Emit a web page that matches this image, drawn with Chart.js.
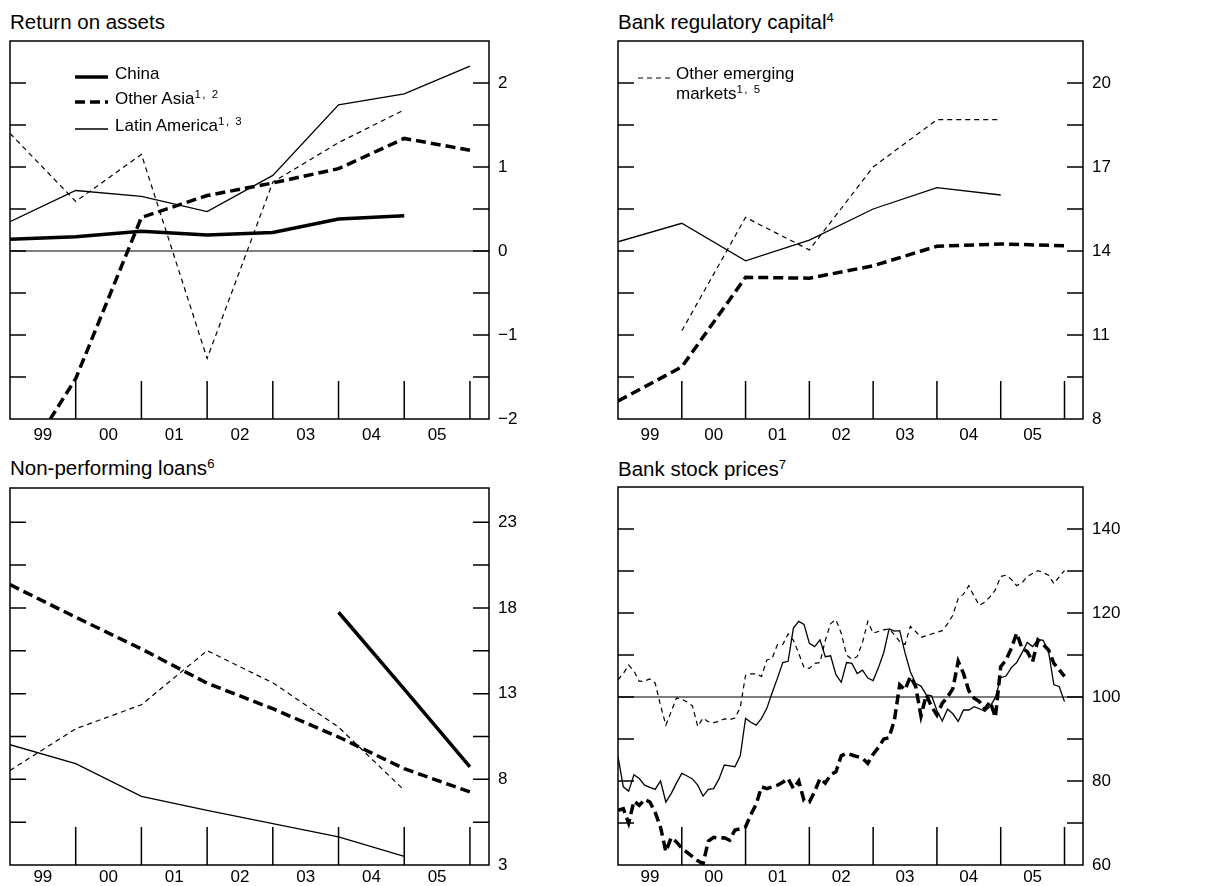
<!DOCTYPE html>
<html>
<head>
<meta charset="utf-8">
<script src="https://cdn.jsdelivr.net/npm/chart.js@4.4.1/dist/chart.umd.min.js"></script>
<style>
  body { margin: 0; background: #fff; width: 1219px; height: 886px; position: relative; overflow: hidden;
         font-family: "Liberation Sans", Arial, Helvetica, sans-serif; color: #000; }
  canvas { position: absolute; }
  .title { position: absolute; font-size: 20.5px; line-height: 20px; white-space: nowrap; }
  .lg { position: absolute; font-size: 17px; line-height: 20px; white-space: nowrap; }
  .title sup { font-size: 13px; vertical-align: 7px; line-height: 0; }
  .lg sup { font-size: 11.5px; letter-spacing: 1.5px; vertical-align: 6px; line-height: 0; }
</style>
</head>
<body>
<div class="title" style="left:10px;top:12px">Return on assets</div>
<div class="title" style="left:618px;top:12px">Bank regulatory capital<sup>4</sup></div>
<div class="title" style="left:10px;top:458px">Non-performing loans<sup>6</sup></div>
<div class="title" style="left:618px;top:459px">Bank stock prices<sup>7</sup></div>

<canvas id="roa" width="600" height="445" style="left:0;top:0"></canvas>
<canvas id="cap" width="619" height="445" style="left:600px;top:0"></canvas>
<canvas id="npl" width="600" height="441" style="left:0;top:445px"></canvas>
<canvas id="stk" width="619" height="441" style="left:600px;top:445px"></canvas>

<div class="lg" style="left:115px;top:64px">China</div>
<div class="lg" style="left:115px;top:89px">Other Asia<sup>1, 2</sup></div>
<div class="lg" style="left:115px;top:116px">Latin America<sup>1, 3</sup></div>
<div class="lg" style="left:676px;top:64px">Other emerging<br>markets<sup>1, 5</sup></div>

<script>
// x positions: annual values sit on the year ends (end-1998 ... end-2005)
const years = [1999, 2000, 2001, 2002, 2003, 2004, 2005, 2006];
const yearLabels = ['99', '00', '01', '02', '03', '04', '05'];

// Return on assets
const roaChina = [0.14, 0.17, 0.235, 0.19, 0.22, 0.38, 0.42, null];
const roaOtherAsia = [-2.76, -1.52, 0.40, 0.66, 0.81, 0.98, 1.34, 1.20];
const roaLatam = [0.35, 0.72, 0.65, 0.47, 0.90, 1.74, 1.87, 2.20];
const roaOtherEm = [1.40, 0.59, 1.15, -1.28, 0.82, 1.29, 1.68, null];
const roaTicks = [-2, -1, 0, 1, 2];

// Bank regulatory capital
const capOtherAsia = [8.64, 9.86, 13.06, 13.03, 13.47, 14.17, 14.25, 14.19];
const capLatam = [14.33, 14.99, 13.65, 14.39, 15.50, 16.26, 16.0, null];
const capOtherEm = [null, 11.15, 15.2, 14.04, 17.0, 18.69, 18.69, null];
const capTicks = [8, 11, 14, 17, 20];

// Non-performing loans
const nplChina = [null, null, null, null, null, 17.75, 13.26, 8.72];
const nplOtherAsia = [19.36, 17.46, 15.61, 13.61, 12.12, 10.47, 8.62, 7.26];
const nplOtherEm = [8.52, 10.95, 12.35, 15.51, 13.63, 11.05, 7.36, null];
const nplLatam = [10.02, 8.91, 7.0, 6.19, 5.42, 4.64, 3.51, null];
const nplTicks = [3, 8, 13, 18, 23];

// Bank stock prices, monthly Jan-99 ... Jan-06
const months = Array.from({ length: 85 }, (_, k) => 1999 + k / 12);
const stkLatam = [
  85.8, 78.6, 77.6, 81.5, 80.6, 79.0, 78.5, 78.0, 80.0, 75.0, 77.0, 79.5,
  81.8, 81.2, 80.5, 79.0, 76.4, 78.0, 78.2, 80.5, 83.8, 83.6, 83.4, 86.0,
  94.9, 94.0, 93.3, 94.9, 97.3, 101.0, 104.5, 108.2, 108.5, 116.4, 118.0, 117.3,
  112.8, 112.0, 113.6, 109.6, 109.8, 105.3, 103.5, 108.2, 108.0, 105.6, 106.4, 104.5,
  103.9, 107.0, 110.6, 116.2, 115.7, 115.8, 110.5, 106.0, 103.2, 102.6, 100.5, 100.3,
  96.8, 94.3, 97.1, 96.0, 94.2, 96.9, 96.9, 97.7, 97.2, 96.6, 97.7, 99.9,
  104.6, 105.0, 107.0, 108.2, 110.5, 113.0, 112.0, 113.7, 113.5, 110.8, 102.9, 102.5,
  98.9
];
const stkOtherAsia = [
  73.0, 73.4, 70.0, 75.2, 74.2, 75.6, 75.0, 72.5, 69.0, 63.2, 66.5, 65.5,
  64.0, 63.0, 62.0, 61.0, 60.3, 65.7, 66.6, 66.4, 66.5, 65.9, 68.3, 68.6,
  69.1, 72.0, 74.5, 78.6, 78.2, 78.6, 79.0, 79.7, 80.6, 78.2, 80.0, 75.3,
  75.0, 77.5, 80.6, 79.5, 81.5, 82.2, 86.0, 86.6, 86.2, 85.8, 85.4, 84.2,
  86.4, 88.0, 90.0, 90.3, 94.5, 102.9, 101.7, 104.9, 102.5, 95.5, 100.5, 97.7,
  95.7, 98.5, 100.0, 102.0, 108.5, 105.6, 101.5, 99.7, 98.9, 97.1, 98.9, 95.2,
  107.2, 108.8, 111.6, 115.2, 111.6, 110.8, 108.4, 113.6, 112.5, 111.2, 108.0, 106.5,
  104.9
];
const stkOtherEm = [
  104.1, 105.6, 107.6, 106.2, 103.7, 103.8, 104.3, 103.3, 98.0, 93.3, 96.5, 99.8,
  99.5, 98.8, 97.9, 93.0, 95.0, 94.1, 93.9, 94.2, 94.8, 94.6, 95.0, 97.5,
  105.2, 105.5, 105.5, 104.9, 108.8, 109.2, 112.5, 112.5, 115.0, 113.5, 110.4, 107.0,
  106.8, 108.0, 108.2, 113.5, 117.5, 118.4, 115.2, 110.0, 109.0, 109.6, 113.0, 118.0,
  115.2, 115.6, 116.0, 116.2, 114.8, 113.2, 112.5, 116.8, 115.6, 114.2, 114.6, 115.0,
  115.4, 115.8, 117.4, 119.5, 123.5, 124.5, 126.5, 124.0, 121.8, 122.6, 123.9, 125.5,
  128.7, 129.0, 128.0, 126.5, 127.2, 128.7, 129.4, 130.1, 129.6, 129.0, 127.0, 128.6,
  130.1
];
const stkTicks = [60, 80, 100, 120, 140];

const FONT = '"Liberation Sans", Arial, Helvetica, sans-serif';

// line looks per group
const looks = {
  china:     { borderWidth: 3.5, borderDash: [] },
  otherAsia: { borderWidth: 3.5, borderDash: [10, 5] },
  latam:     { borderWidth: 1.3, borderDash: [] },
  otherEm:   { borderWidth: 1.2, borderDash: [5, 4] },
};

const pts = (xs, ys) => xs.map((x, i) => ({ x, y: ys[i] }));
const line = (look, xs, ys) => ({
  data: pts(xs, ys), borderColor: '#000', pointRadius: 0, tension: 0,
  spanGaps: false, clip: 0, ...looks[look],
});

// box, inner tick marks, zero/base line and legend swatches
const frame = {
  id: 'frame',
  beforeDatasetsDraw(chart, args, o) {
    const { ctx, chartArea: a, scales: { x, y } } = chart;
    ctx.save();
    ctx.strokeStyle = '#000';
    ctx.lineWidth = 1.5;
    ctx.beginPath();
    o.minor.forEach(v => {
      const py = y.getPixelForValue(v);
      ctx.moveTo(a.left, py); ctx.lineTo(a.left + 16, py);
      ctx.moveTo(a.right - 16, py); ctx.lineTo(a.right, py);
    });
    years.slice(1).forEach(v => {
      const px = x.getPixelForValue(v);
      ctx.moveTo(px, a.bottom); ctx.lineTo(px, a.bottom - 38);
    });
    ctx.stroke();
    if (o.ref != null) {
      const py = y.getPixelForValue(o.ref);
      ctx.lineWidth = 1.2;
      ctx.beginPath(); ctx.moveTo(a.left, py); ctx.lineTo(a.right, py); ctx.stroke();
    }
    ctx.restore();
  },
  afterDatasetsDraw(chart, args, o) {
    const { ctx, chartArea: a } = chart;
    ctx.save();
    ctx.strokeStyle = '#000';
    ctx.lineWidth = 1.5;
    ctx.strokeRect(a.left, a.top, a.right - a.left, a.bottom - a.top);
    (o.keys || []).forEach(k => {
      ctx.lineWidth = looks[k.look].borderWidth;
      ctx.setLineDash(looks[k.look].borderDash);
      ctx.beginPath();
      ctx.moveTo(a.left + k.x0, a.top + k.y);
      ctx.lineTo(a.left + k.x1, a.top + k.y);
      ctx.stroke();
    });
    ctx.restore();
  }
};

function panel(id, p) {
  return new Chart(document.getElementById(id), {
    type: 'line',
    data: { datasets: p.datasets },
    plugins: [frame],
    options: {
      responsive: false,
      animation: false,
      events: [],
      layout: { padding: { left: p.left, top: p.top, right: 0, bottom: 0 } },
      plugins: {
        legend: { display: false },
        tooltip: { enabled: false },
        frame: { minor: p.minor, ref: p.ref, keys: p.keys },
      },
      scales: {
        x: {
          type: 'linear', min: 1999, max: 2006.29,
          grid: { display: false, drawTicks: false },
          border: { display: false },
          afterBuildTicks: s => { s.ticks = yearLabels.map((l, i) => ({ value: 1999.5 + i })); },
          afterFit: s => { s.height = p.xh; },
          ticks: {
            autoSkip: false, maxRotation: 0, padding: p.xpad, color: '#000',
            font: { size: 17, family: FONT },
            callback: (v, i) => yearLabels[i],
          },
        },
        y: {
          position: 'right', min: p.min, max: p.max,
          grid: { display: false, drawTicks: false },
          border: { display: false },
          afterBuildTicks: s => { s.ticks = p.ticks.map(v => ({ value: v })); },
          afterFit: s => { s.width = p.yw; },
          ticks: {
            padding: 9, color: '#000', font: { size: 17, family: FONT },
            callback: v => (v < 0 ? '\u2212' + Math.abs(v) : String(v)),
          },
        },
      },
    },
  });
}

panel('roa', {
  left: 10, top: 41, yw: 111, xh: 26, xpad: 6,
  min: -2, max: 2.5, ticks: roaTicks,
  minor: [-1.5, -1, -0.5, 0, 0.5, 1, 1.5, 2], ref: 0,
  keys: [
    { look: 'china', x0: 65, x1: 98, y: 36 },
    { look: 'otherAsia', x0: 65, x1: 98, y: 61 },
    { look: 'latam', x0: 65, x1: 98, y: 88 },
  ],
  datasets: [
    line('otherEm', years, roaOtherEm),
    line('latam', years, roaLatam),
    line('otherAsia', years, roaOtherAsia),
    line('china', years, roaChina),
  ],
});

panel('cap', {
  left: 18, top: 41, yw: 136, xh: 26, xpad: 6,
  min: 8, max: 21.5, ticks: capTicks,
  minor: [9.5, 11, 12.5, 14, 15.5, 17, 18.5, 20],
  keys: [{ look: 'otherEm', x0: 20, x1: 52, y: 37 }],
  datasets: [
    line('otherEm', years, capOtherEm),
    line('latam', years, capLatam),
    line('otherAsia', years, capOtherAsia),
  ],
});

panel('npl', {
  left: 10, top: 43, yw: 111, xh: 21, xpad: 2,
  min: 3, max: 25, ticks: nplTicks,
  minor: [5.5, 8, 10.5, 13, 15.5, 18, 20.5, 23],
  datasets: [
    line('otherEm', years, nplOtherEm),
    line('latam', years, nplLatam),
    line('otherAsia', years, nplOtherAsia),
    line('china', years, nplChina),
  ],
});

panel('stk', {
  left: 18, top: 42, yw: 136, xh: 21, xpad: 2,
  min: 60, max: 150, ticks: stkTicks,
  minor: [70, 80, 90, 100, 110, 120, 130, 140], ref: 100,
  datasets: [
    line('otherEm', months, stkOtherEm),
    line('latam', months, stkLatam),
    line('otherAsia', months, stkOtherAsia),
  ],
});
</script>
</body>
</html>
